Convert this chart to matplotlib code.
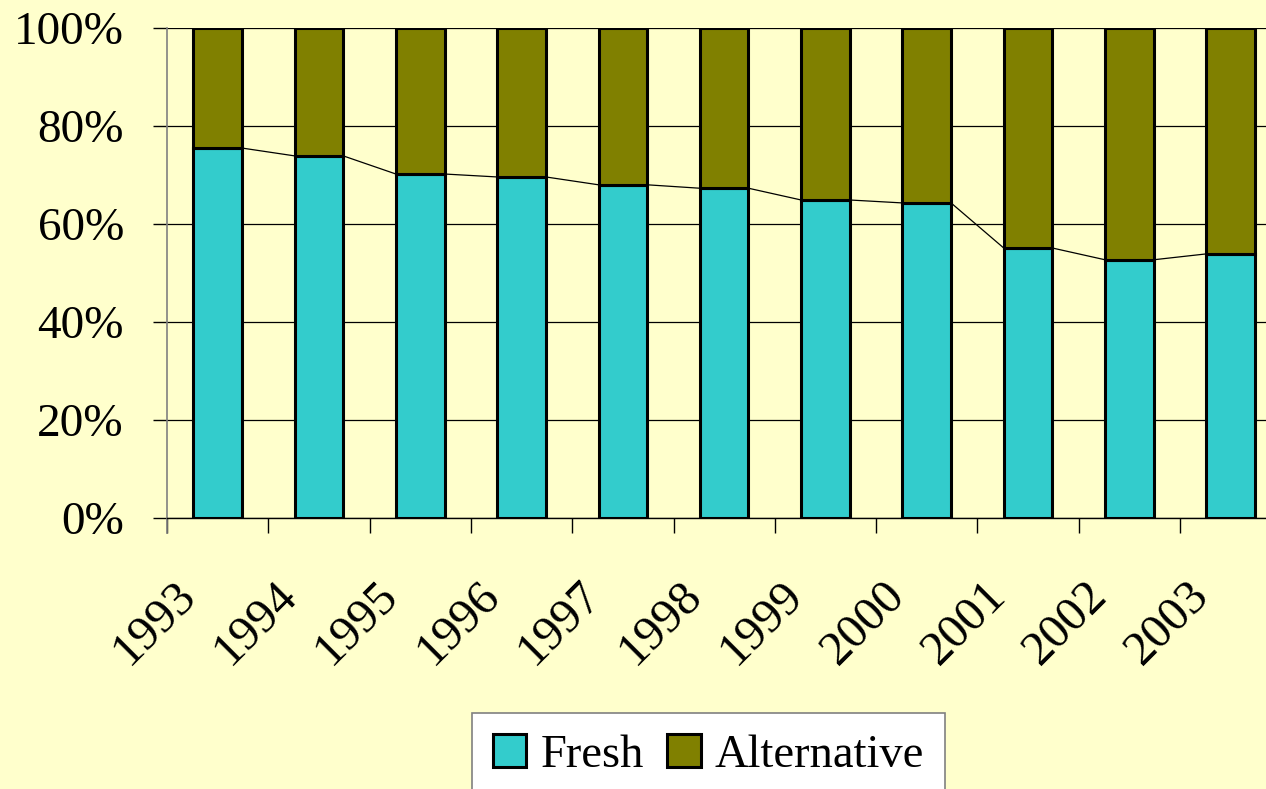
import numpy as np
import matplotlib
matplotlib.use('Agg')
import matplotlib.pyplot as plt
from matplotlib import transforms

years = ['1993', '1994', '1995', '1996', '1997', '1998', '1999', '2000', '2001', '2002', '2003']
fresh_pct = [75.5, 73.9, 70.2, 69.6, 68.0, 67.3, 64.9, 64.3, 55.1, 52.7, 53.9]
alternative_pct = [100 - v for v in fresh_pct]
y_ticks = [0, 20, 40, 60, 80, 100]

BG = '#FFFFCC'
FRESH_COLOR = '#33CCCC'
ALT_COLOR = '#808000'
BAR_W = 0.48

plt.rcParams['font.family'] = ['Liberation Serif', 'DejaVu Serif']


def plotChart():
    fig = plt.figure(figsize=(12.66, 7.89), dpi=100, facecolor=BG)
    ax = fig.add_axes([167 / 1266, 1 - 518 / 789, 11 * 101.3 / 1266, 490 / 789])
    ax.set_facecolor(BG)

    x = np.arange(len(years))
    ax.bar(x, fresh_pct, BAR_W, color=FRESH_COLOR, edgecolor='black', linewidth=2.2,
           label='Fresh', zorder=3)
    ax.bar(x, alternative_pct, BAR_W, bottom=fresh_pct, color=ALT_COLOR, edgecolor='black',
           linewidth=2.2, label='Alternative', zorder=3)

    # series lines between the fresh tops
    for i in range(len(years) - 1):
        ax.plot([x[i] + BAR_W / 2, x[i + 1] - BAR_W / 2], [fresh_pct[i], fresh_pct[i + 1]],
                color='black', linewidth=0.9, zorder=2)

    ax.set_xlim(-0.5, len(years) - 0.5)
    ax.set_ylim(0, 100)

    ax.set_yticks(y_ticks)
    ax.set_yticklabels(['{}%'.format(v) for v in y_ticks], fontsize=34)
    ax.tick_params(axis='y', length=10, width=1, color='black', pad=21)
    ax.grid(axis='y', color='black', linewidth=0.9, zorder=1)

    ax.set_xticks(np.arange(len(years) + 1) - 0.5)
    ax.set_xticklabels([])
    ax.tick_params(axis='x', length=11, width=1, color='black')

    # rotated year labels
    offset = transforms.ScaledTranslation(-32 / 72, -40 / 72, fig.dpi_scale_trans)
    trans = transforms.blended_transform_factory(ax.transData, ax.transAxes) + offset
    for xi, yr in zip(x, years):
        ax.text(xi, 0, yr, transform=trans, rotation=45, rotation_mode='anchor',
                ha='right', va='top', fontsize=35, clip_on=False)

    for side in ['top', 'right']:
        ax.spines[side].set_visible(False)
    ax.spines['left'].set_color('#808080')
    ax.spines['left'].set_linewidth(1.2)
    ax.spines['left'].set_bounds(-3, 100)
    ax.spines['bottom'].set_color('black')
    ax.spines['bottom'].set_linewidth(1)

    leg = fig.legend(loc='upper left', bbox_to_anchor=(472 / 1266, 1 - 713 / 789), ncol=2,
                     fontsize=33.5, frameon=True, fancybox=False, handlelength=0.72,
                     handleheight=0.72, handletextpad=0.3, columnspacing=0.5,
                     borderpad=0.45, borderaxespad=0)
    leg.get_frame().set_facecolor('white')
    leg.get_frame().set_edgecolor('#808080')
    leg.get_frame().set_linewidth(1.2)
    leg.get_frame().set_alpha(1)

    fig.savefig('out.png', dpi=100, facecolor=BG)


def main():
    plotChart()


if __name__ == "__main__":
    main()
